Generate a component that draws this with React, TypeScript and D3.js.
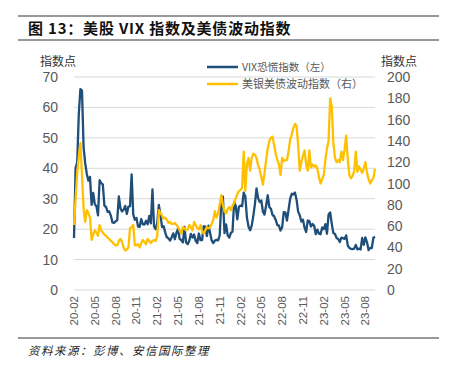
import React from "react";
import * as d3 from "d3";

// weekly closes, Fridays from 2020-02-21 to 2023-09-29
const weeks = d3.timeFriday.range(new Date(2020, 1, 21), new Date(2023, 8, 30));

const vix = [
  17.08, 40.11, 41.94, 57.83, 66.04, 65.54, 46.8, 41.67, 38.15, 35.93,
  37.19, 27.98, 31.89, 28.16, 27.51, 24.52, 36.09, 35.12, 34.73, 27.68,
  27.29, 25.68, 25.84, 24.46, 22.21, 22.05, 22.54, 22.96, 30.75, 26.87,
  25.83, 26.38, 27.63, 25.0, 27.41, 27.55, 38.02, 24.86, 23.1, 23.7,
  20.84, 20.79, 23.31, 21.57, 21.53, 22.75, 21.56, 24.34, 21.91, 33.09,
  20.87, 19.97, 22.05, 27.95, 24.66, 20.69, 20.95, 18.86, 17.33, 16.95,
  16.25, 17.33, 18.61, 16.69, 18.81, 20.15, 16.76, 16.42, 15.65, 20.7,
  15.62, 15.07, 16.18, 18.45, 17.2, 18.24, 16.15, 15.45, 18.56, 16.39,
  16.41, 20.95, 20.81, 17.75, 21.15, 18.77, 16.3, 15.43, 16.26, 16.48,
  16.29, 17.91, 28.62, 30.67, 18.69, 21.57, 17.96, 17.22, 18.76, 19.19,
  28.85, 27.66, 23.22, 27.36, 27.75, 27.59, 31.98, 30.75, 23.87, 20.81,
  19.63, 21.16, 24.37, 28.21, 33.4, 30.19, 28.87, 29.43, 25.72, 24.79,
  27.75, 31.13, 27.23, 26.7, 24.64, 24.23, 23.03, 21.33, 21.15, 19.53,
  20.6, 25.56, 25.47, 22.79, 26.3, 29.92, 31.62, 31.36, 32.02, 29.69,
  25.75, 24.55, 22.52, 23.12, 20.5, 19.06, 22.83, 22.62, 20.87, 21.67,
  21.13, 18.35, 19.85, 18.51, 18.33, 20.53, 20.02, 21.67, 18.49, 24.8,
  25.51, 21.74, 18.7, 18.4, 17.07, 16.77, 15.78, 17.19, 17.03, 16.81,
  17.95, 14.6, 13.83, 13.54, 13.44, 13.59, 14.83, 13.34, 13.6, 13.33,
  17.1, 14.84, 17.3, 15.68, 13.09, 13.84, 13.79, 17.2, 17.52,
];

const move = [
  61, 86, 110, 126, 138, 108, 76, 64, 75, 72,
  68, 47, 52, 56, 54, 51, 61, 56, 54, 52,
  51, 49, 48, 46, 45, 43, 42, 42, 46, 48,
  45, 40, 37, 38, 40, 58, 59, 61, 42, 42,
  43, 40, 44, 47, 45, 43, 48, 46, 44, 46,
  47, 46, 51, 75, 72, 70, 67, 68, 66, 63,
  64, 62, 62, 63, 61, 59, 56, 53, 59, 58,
  56, 57, 61, 59, 56, 64, 61, 58, 57, 61,
  55, 53, 56, 59, 58, 59, 62, 66, 74, 68,
  72, 80, 89, 80, 74, 72, 76, 78, 75, 79,
  82, 86, 90, 93, 94, 96, 130, 93, 118, 124,
  112, 124, 128, 127, 124, 117, 113, 106, 99, 110,
  122, 133, 140, 143, 144, 136, 128, 122, 118, 108,
  124, 121, 122, 122, 130, 141, 146, 152, 156, 154,
  136, 112, 120, 126, 131, 118, 112, 131, 115, 118,
  116, 117, 114, 106, 100, 104, 108, 122, 133, 140,
  180, 172, 138, 124, 120, 122, 120, 130, 122, 132,
  145, 122, 108, 105, 107, 112, 130, 111, 116, 113,
  110, 114, 120, 110, 104, 100, 103, 105, 114,
];

const tickLabels = [
  "20-02", "20-05", "20-08", "20-11", "21-02", "21-05", "21-08", "21-11",
  "22-02", "22-05", "22-08", "22-11", "23-02", "23-05", "23-08",
];
const leftTicks = [0, 10, 20, 30, 40, 50, 60, 70];
const rightTicks = [0, 20, 40, 60, 80, 100, 120, 140, 160, 180, 200];

const seriesNames = ["VIX恐慌指数（左）", "美银美债波动指数（右）"];

const W = 449;
const H = 370;
const cjk = "'Noto Sans CJK SC', sans-serif";
const latin = "'Liberation Sans', Arial, sans-serif";

export default function App() {
  const margin = { left: 74, right: 375, top: 77, bottom: 290 };

  const x = d3
    .scalePoint<number>()
    .domain(weeks.map((_, i) => i))
    .range([margin.left, margin.right]);
  const yL = d3.scaleLinear().domain([0, 70]).range([margin.bottom, margin.top]);
  const yR = d3.scaleLinear().domain([0, 200]).range([margin.bottom, margin.top]);

  const vixLine = d3
    .line<number>()
    .x((_, i) => x(i) as number)
    .y((d) => yL(d));
  const moveLine = d3
    .line<number>()
    .x((_, i) => x(i) as number)
    .y((d) => yR(d));

  return (
    <svg
      width={W}
      height={H}
      style={{ position: "absolute", left: 0, top: 0, background: "#fff" }}
    >
      {/* header */}
      <line x1={18} x2={439} y1={16} y2={16} stroke="#333" strokeWidth={1} />
      <text
        x={28}
        y={34}
        fontFamily={cjk}
        fontWeight="bold"
        fontSize={15}
        letterSpacing={0.8}
        fill="#111"
      >
        图 13：美股 VIX 指数及美债波动指数
      </text>
      <line x1={18} x2={439} y1={40} y2={40} stroke="#333" strokeWidth={1} />

      {/* axis titles */}
      <text x={40} y={66} fontFamily={cjk} fontSize={12} fill="#333">
        指数点
      </text>
      <text x={381} y={66} fontFamily={cjk} fontSize={12} fill="#333">
        指数点
      </text>

      {/* gridlines */}
      {leftTicks.map((t) => (
        <line
          key={"g" + t}
          x1={margin.left}
          x2={margin.right}
          y1={yL(t)}
          y2={yL(t)}
          stroke="#d9d9d9"
          strokeWidth={1}
        />
      ))}

      {/* left axis */}
      {leftTicks.map((t) => (
        <text
          key={"l" + t}
          x={58}
          y={yL(t)}
          dy="0.36em"
          textAnchor="end"
          fontFamily={latin}
          fontSize={14}
          fill="#595959"
        >
          {t}
        </text>
      ))}

      {/* right axis */}
      {rightTicks.map((t) => (
        <text
          key={"r" + t}
          x={387}
          y={yR(t)}
          dy="0.36em"
          fontFamily={latin}
          fontSize={14}
          fill="#595959"
        >
          {t}
        </text>
      ))}

      {/* x labels */}
      {tickLabels.map((lab, i) => {
        const px = x(i * 13) as number;
        return (
          <text
            key={lab}
            transform={`translate(${px + 4},296) rotate(-90)`}
            textAnchor="end"
            fontFamily={latin}
            fontSize={11.5}
            fill="#595959"
          >
            {lab}
          </text>
        );
      })}

      {/* series */}
      <path
        d={vixLine(vix) ?? ""}
        fill="none"
        stroke="#1f4e79"
        strokeWidth={2.3}
        strokeLinejoin="round"
      />
      <path
        d={moveLine(move) ?? ""}
        fill="none"
        stroke="#ffc000"
        strokeWidth={2.3}
        strokeLinejoin="round"
      />

      {/* legend */}
      <line x1={207} x2={238} y1={67} y2={67} stroke="#1f4e79" strokeWidth={2.5} />
      <text x={242} y={67} dy="0.36em" fontFamily={cjk} fontSize={10.5} fill="#595959">
        {seriesNames[0]}
      </text>
      <line x1={207} x2={238} y1={84} y2={84} stroke="#ffc000" strokeWidth={2.5} />
      <text x={242} y={84} dy="0.36em" fontFamily={cjk} fontSize={11} fill="#595959">
        {seriesNames[1]}
      </text>

      {/* footer */}
      <line x1={18} x2={439} y1={338} y2={338} stroke="#333" strokeWidth={1} />
      <text
        x={28}
        y={355}
        fontFamily={cjk}
        fontStyle="italic"
        fontSize={11.5}
        letterSpacing={1.5}
        fill="#222"
      >
        资料来源：彭博、安信国际整理
      </text>
    </svg>
  );
}
